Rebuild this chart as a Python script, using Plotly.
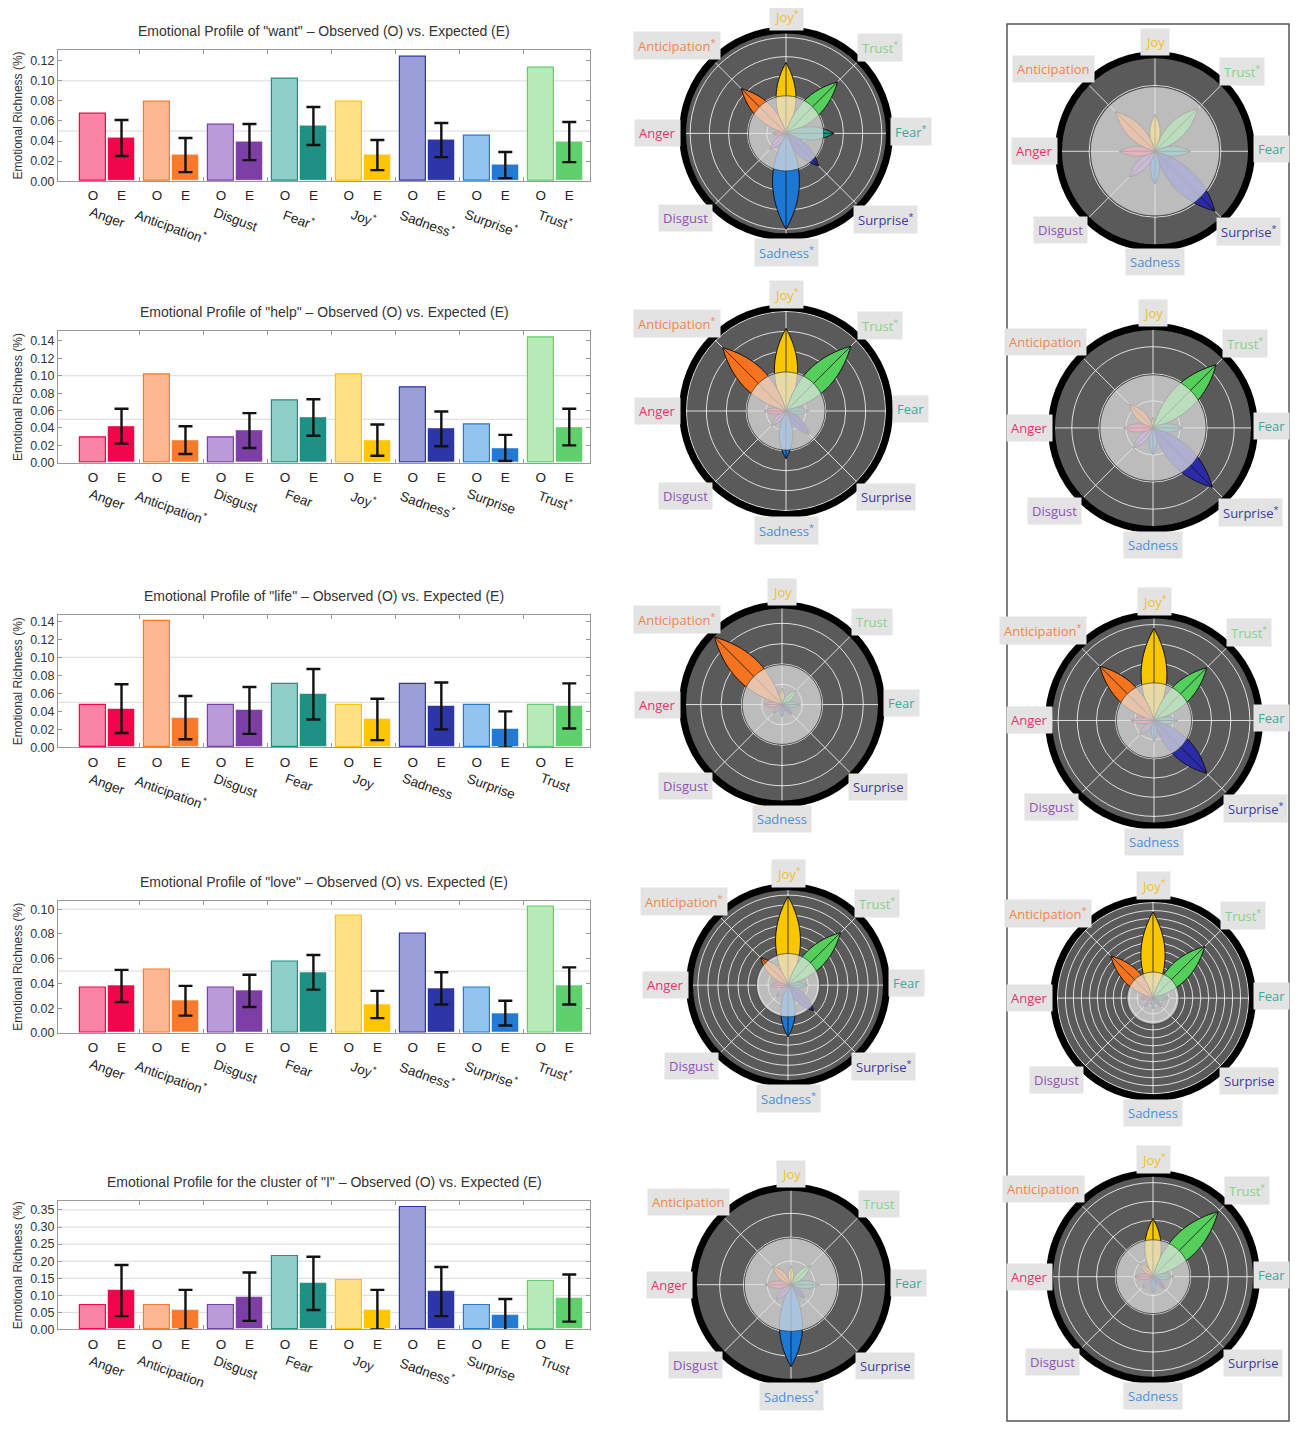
import numpy as np
import plotly.graph_objects as go

W, H = 1298, 1437
PAGE_PAD = 8  # default body margin of the html page
FW, FH = W - 2 * PAGE_PAD, H - 2 * PAGE_PAD

# ---------------- data ----------------
EMOTIONS = ["Anger", "Anticipation", "Disgust", "Fear", "Joy", "Sadness", "Surprise", "Trust"]

TITLES = [
    'Emotional Profile of "want" – Observed (O) vs. Expected (E)',
    'Emotional Profile of "help" – Observed (O) vs. Expected (E)',
    'Emotional Profile of "life" – Observed (O) vs. Expected (E)',
    'Emotional Profile of "love" – Observed (O) vs. Expected (E)',
    'Emotional Profile for the cluster of "I" – Observed (O) vs. Expected (E)',
]

OBS_WANT = [0.067, 0.079, 0.056, 0.102, 0.079, 0.124, 0.045, 0.113]
EXP_WANT = [0.043, 0.026, 0.039, 0.055, 0.026, 0.041, 0.016, 0.039]
ERR_WANT = [0.018, 0.017, 0.018, 0.019, 0.015, 0.017, 0.013, 0.020]
SIG_WANT = [0, 1, 0, 1, 1, 1, 1, 1]

OBS_HELP = [0.029, 0.101, 0.029, 0.072, 0.101, 0.087, 0.044, 0.144]
EXP_HELP = [0.042, 0.026, 0.037, 0.052, 0.026, 0.039, 0.017, 0.041]
ERR_HELP = [0.020, 0.016, 0.020, 0.021, 0.018, 0.020, 0.015, 0.021]
SIG_HELP = [0, 1, 0, 0, 1, 1, 0, 1]

OBS_LIFE = [0.047, 0.140, 0.047, 0.070, 0.047, 0.070, 0.047, 0.047]
EXP_LIFE = [0.043, 0.033, 0.041, 0.059, 0.031, 0.046, 0.020, 0.046]
ERR_LIFE = [0.027, 0.024, 0.026, 0.028, 0.023, 0.026, 0.020, 0.025]
SIG_LIFE = [0, 1, 0, 0, 0, 0, 0, 0]

OBS_LOVE = [0.037, 0.051, 0.037, 0.058, 0.095, 0.080, 0.037, 0.102]
EXP_LOVE = [0.038, 0.026, 0.034, 0.049, 0.023, 0.036, 0.016, 0.038]
ERR_LOVE = [0.013, 0.012, 0.013, 0.014, 0.011, 0.013, 0.010, 0.015]
SIG_LOVE = [0, 1, 0, 0, 1, 1, 1, 1]

OBS_I = [0.072, 0.072, 0.072, 0.214, 0.145, 0.357, 0.072, 0.143]
EXP_I = [0.114, 0.058, 0.096, 0.135, 0.058, 0.111, 0.041, 0.092]
ERR_I = [0.075, 0.058, 0.071, 0.078, 0.058, 0.072, 0.048, 0.069]
SIG_I = [0, 0, 0, 0, 0, 1, 0, 0]

Y_MAX = [0.131, 0.151, 0.147, 0.107, 0.376]
Y_STEP = [0.02, 0.02, 0.02, 0.02, 0.05]
Y_GRID = [[0.05, 0.10], [0.05, 0.10], [0.05, 0.10], [0.05, 0.10],
          [0.05, 0.10, 0.15, 0.20, 0.25, 0.30, 0.35]]

# flower plots (petal lengths, z-like scores) in order below
FLOWER_EMOS = ["Joy", "Trust", "Fear", "Surprise", "Sadness", "Disgust", "Anger", "Anticipation"]
FLOWER_ANGLES = [90, 45, 0, -45, -90, -135, 180, 135]
THRESH = 1.96

MID_Z = [
    [3.7, 3.8, 2.5, 2.4, 5.0, 1.2, 0.7, 3.3],
    [4.15, 4.6, 1.15, 1.65, 2.4, 1.05, 1.1, 4.5],
    [0.8, 1.0, 0.9, 0.7, 0.6, 0.6, 0.9, 4.7],
    [5.5, 4.6, 1.2, 2.25, 3.2, 1.0, 1.1, 2.4],
    [0.8, 1.15, 1.2, 0.8, 3.45, 0.9, 1.1, 1.1],
]
MID_SIG = [
    [1, 1, 1, 1, 1, 0, 0, 1],
    [1, 1, 0, 0, 1, 0, 0, 1],
    [0, 0, 0, 0, 0, 0, 0, 1],
    [1, 1, 0, 1, 1, 0, 0, 1],
    [0, 0, 0, 0, 1, 0, 0, 0],
]
MID_RMAX = [5.4, 5.2, 4.9, 6.1, 4.1]
MID_DTICK = [1, 1, 1, 0.62, 1]

RIGHT_Z = [
    [1.12, 1.84, 1.08, 2.57, 1.0, 1.1, 1.08, 1.7],
    [0.4, 3.3, 1.1, 3.1, 1.0, 1.05, 1.1, 1.24],
    [4.8, 3.9, 1.25, 3.9, 1.1, 1.05, 1.2, 4.0],
    [6.5, 5.5, 1.2, 0.9, 0.8, 0.9, 1.0, 4.5],
    [3.1, 4.9, 1.1, 0.9, 0.9, 0.8, 1.0, 1.0],
]
RIGHT_SIG = [
    [0, 1, 0, 1, 0, 0, 0, 0],
    [0, 1, 0, 1, 0, 0, 0, 0],
    [1, 1, 0, 1, 0, 0, 0, 1],
    [1, 1, 0, 0, 0, 0, 0, 1],
    [1, 1, 0, 0, 0, 0, 0, 0],
]
RIGHT_RMAX = [2.93, 3.75, 5.5, 7.5, 5.5]
RIGHT_DTICK = [2, 1, 1, 0.6, 1]

# ---------------- styles ----------------
E_COL = {"Anger": "#f0064a", "Anticipation": "#f97a2c", "Disgust": "#7d3fa6", "Fear": "#1e9084",
         "Joy": "#fdc600", "Sadness": "#2d36a6", "Surprise": "#2379d4", "Trust": "#5fd06b"}
O_COL = {"Anger": "#f984a6", "Anticipation": "#fcb792", "Disgust": "#b99bd9", "Fear": "#8ecfc8",
         "Joy": "#fee185", "Sadness": "#9b9ed8", "Surprise": "#93c4f0", "Trust": "#b9ebb9"}
FL_COL = {"Joy": "#f9c700", "Trust": "#55cf5c", "Fear": "#21968a", "Surprise": "#2b2ba8",
          "Sadness": "#1b78d4", "Disgust": "#8d52b8", "Anger": "#ea3560", "Anticipation": "#f6731f"}
LBL_COL = {"Joy": "#f0c02a", "Trust": "#86d486", "Fear": "#3fa79c", "Surprise": "#3a3aa0",
           "Sadness": "#4a90d9", "Disgust": "#9050b8", "Anger": "#e8336a", "Anticipation": "#f2864a"}
LBL_OFF = {"Joy": (0, 1.13), "Trust": (0.9, 0.83), "Fear": (1.2, 0.02), "Surprise": (0.96, -0.83),
           "Sadness": (0, -1.15), "Disgust": (-0.97, -0.82), "Anger": (-1.24, 0.0),
           "Anticipation": (-1.05, 0.85)}

FONT = "Liberation Sans, Arial, sans-serif"
LFONT = "Open Sans, Noto Sans, sans-serif"

PLOT_TOP = [50, 333, 618, 905, 1207]
PLOT_BOT = [182, 465, 751, 1038, 1336]
PLOT_L, PLOT_R = 58, 590
MID_GEOM = [(786, 134, 104), (786, 413, 104), (782, 708, 100), (788, 990, 99), (791, 1291, 98)]
RIGHT_GEOM = [(1155, 152, 97), (1153, 430, 102), (1154, 724, 106), (1153, 1003, 100), (1153, 1283, 104)]
RIGHT_LBL_X = (1029, 1271)  # label centres are kept inside the framed column


def fx(p):
    return (p - PAGE_PAD) / FW


def fy(p):
    return 1 - (p - PAGE_PAD) / FH


fig = go.Figure()
annotations = []
shapes = []
layout = dict(width=FW, height=FH, margin=dict(l=0, r=0, t=0, b=0),
              paper_bgcolor="white", plot_bgcolor="white", showlegend=False,
              font=dict(family=FONT, color="#333"))

ROWS = [
    (OBS_WANT, EXP_WANT, ERR_WANT, SIG_WANT),
    (OBS_HELP, EXP_HELP, ERR_HELP, SIG_HELP),
    (OBS_LIFE, EXP_LIFE, ERR_LIFE, SIG_LIFE),
    (OBS_LOVE, EXP_LOVE, ERR_LOVE, SIG_LOVE),
    (OBS_I, EXP_I, ERR_I, SIG_I),
]

OFF = 0.223
BW = 0.414
g = np.arange(len(EMOTIONS))
for i, (obs, exp, err, sig) in enumerate(ROWS):
    k = i + 1
    sfx = "" if k == 1 else str(k)
    xa, ya = f"x{sfx}", f"y{sfx}"
    xl, yl = f"xaxis{sfx}", f"yaxis{sfx}"
    fig.add_trace(go.Bar(x=g - OFF, y=obs, width=BW, xaxis=xa, yaxis=ya,
                         marker=dict(color=[O_COL[e] for e in EMOTIONS],
                                     line=dict(color=[E_COL[e] for e in EMOTIONS], width=1.2))))
    fig.add_trace(go.Bar(x=g + OFF, y=exp, width=BW, xaxis=xa, yaxis=ya,
                         marker=dict(color=[E_COL[e] for e in EMOTIONS],
                                     line=dict(color="rgba(255,255,255,0.5)", width=1)),
                         error_y=dict(type="data", array=err, color="#111", thickness=2.4, width=7)))
    layout[xl] = dict(domain=[fx(PLOT_L), fx(PLOT_R)], anchor=ya, range=[-0.77, 7.547],
                      tickmode="array", tickvals=list(np.concatenate([g - OFF, g + OFF])),
                      ticktext=["O"] * 8 + ["E"] * 8, ticks="", tickfont=dict(size=13.5, color="#222"),
                      showline=True, mirror="allticks", linecolor="#999", linewidth=1,
                      showgrid=False, zeroline=False, ticklabelstandoff=2,
                      minor=dict(tickmode="array", tickvals=list(g[:-1] + 0.5), ticks="inside",
                                 ticklen=4, tickcolor="#999", showgrid=False))
    layout[yl] = dict(domain=[fy(PLOT_BOT[i]), fy(PLOT_TOP[i])], anchor=xa, range=[0, Y_MAX[i]],
                      dtick=Y_STEP[i], tick0=0, tickformat=".2f", ticks="inside", ticklen=4,
                      tickcolor="#999", mirror="ticks", showline=True, linecolor="#999",
                      linewidth=1, showgrid=False, zeroline=False,
                      tickfont=dict(size=12.5, color="#333"),
                      title=dict(text="Emotional Richness (%)", font=dict(size=12, color="#333"),
                                 standoff=4))
    for gv in Y_GRID[i]:
        shapes.append(dict(type="line", xref=f"{xa} domain", yref=ya, x0=0, x1=1, y0=gv, y1=gv,
                           line=dict(color="#d9d9d9", width=1), layer="below"))
    # title
    annotations.append(dict(text=TITLES[i], x=fx((PLOT_L + PLOT_R) / 2), y=fy(PLOT_TOP[i] - 19),
                            xref="paper", yref="paper", showarrow=False, xanchor="center",
                            yanchor="middle", font=dict(size=14, color="#333")))
    # category labels
    for j, e in enumerate(EMOTIONS):
        txt = e + ("<sup>*</sup>" if sig[j] else "")
        annotations.append(dict(text=txt, x=j, xref=xa, y=fy(PLOT_BOT[i] + 21), yref="paper",
                                showarrow=False, xanchor="center", yanchor="top", textangle=20,
                                font=dict(size=13.5, color="#222")))


# ---------------- flowers ----------------
def petal(L, ang, n=50):
    t = np.linspace(0, 1, n)
    hw = 0.56 * L * t * (1 - t)
    xs = np.concatenate([t * L, (t * L)[::-1]])
    ys = np.concatenate([hw, -hw[::-1]])
    r = np.hypot(xs, ys)
    th = ang + np.degrees(np.arctan2(ys, xs))
    return r, th


flowers = []
for i in range(5):
    flowers.append((MID_Z[i], MID_SIG[i], MID_RMAX[i], MID_DTICK[i], MID_GEOM[i], None))
for i in range(5):
    flowers.append((RIGHT_Z[i], RIGHT_SIG[i], RIGHT_RMAX[i], RIGHT_DTICK[i], RIGHT_GEOM[i],
                    RIGHT_LBL_X))

for n, (zs, sig, rmax, dt, (cx, cy, R), clamp) in enumerate(flowers):
    pk = "polar" if n == 0 else f"polar{n + 1}"
    for e, ang, z in zip(FLOWER_EMOS, FLOWER_ANGLES, zs):
        r, th = petal(z, ang)
        fig.add_trace(go.Scatterpolar(r=r, theta=th, mode="lines", fill="toself",
                                      fillcolor=FL_COL[e], line=dict(color="#111", width=1),
                                      subplot=pk, hoverinfo="skip"))
        fig.add_trace(go.Scatterpolar(r=[0, z], theta=[ang, ang], mode="lines",
                                      line=dict(color="#111", width=0.8), subplot=pk,
                                      hoverinfo="skip"))
    circ = np.linspace(0, 360, 181)
    fig.add_trace(go.Scatterpolar(r=[THRESH] * len(circ), theta=circ, mode="lines", fill="toself",
                                  fillcolor="rgba(226,226,226,0.72)",
                                  line=dict(color="rgba(50,50,50,0.7)", width=1),
                                  subplot=pk, hoverinfo="skip"))
    layout[pk] = dict(
        domain=dict(x=[fx(cx - R), fx(cx + R)], y=[fy(cy + R), fy(cy - R)]),
        bgcolor="#5a5a5a",
        radialaxis=dict(range=[0, rmax], dtick=dt, tick0=0, showticklabels=False, ticks="",
                        showline=False, gridcolor="rgba(255,255,255,0.8)", gridwidth=1),
        angularaxis=dict(tickmode="array", tickvals=[0, 45, 90, 135, 180, 225, 270, 315],
                         showticklabels=False, ticks="", showline=True, linecolor="black",
                         linewidth=7, gridcolor="rgba(255,255,255,0.8)", rotation=0,
                         direction="counterclockwise"),
    )
    for j, e in enumerate(FLOWER_EMOS):
        dx, dy = LBL_OFF[e]
        lx = cx + dx * R
        if clamp is not None:
            lx = min(max(lx, clamp[0]), clamp[1])
        txt = e + ("<sup>*</sup>" if sig[j] else "")
        annotations.append(dict(text=txt, x=fx(lx), y=fy(cy - dy * R), xref="paper",
                                yref="paper", showarrow=False, xanchor="center", yanchor="middle",
                                bgcolor="#e3e3e3", borderpad=4,
                                font=dict(size=13, color=LBL_COL[e], family=LFONT)))

# right column frame
shapes.append(dict(type="rect", xref="paper", yref="paper", x0=fx(1007), x1=fx(1289),
                   y0=fy(1428), y1=fy(24), line=dict(color="#555", width=1.5)))

layout["annotations"] = annotations
layout["shapes"] = shapes
layout["bargap"] = 0
fig.update_layout(**layout)
fig.write_html("out.html")
